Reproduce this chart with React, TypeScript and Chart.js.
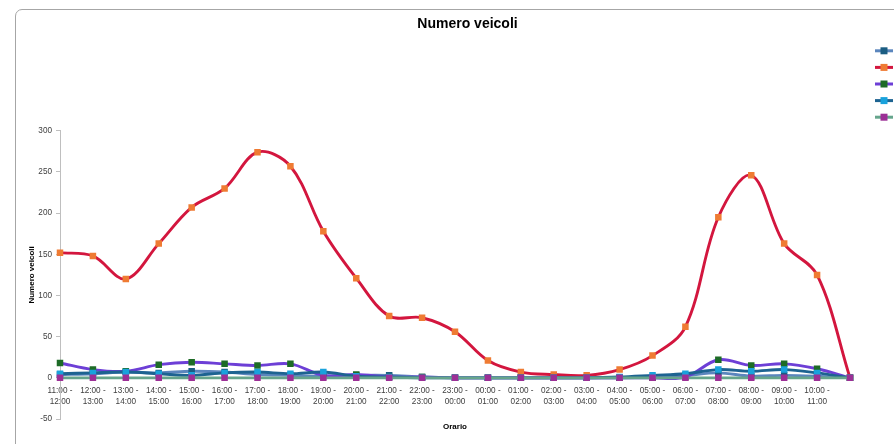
import React, { useEffect, useRef } from 'react';
import { Chart, registerables } from 'chart.js';

Chart.register(...registerables);

const categories: string[] = [
  '11:00 - 12:00', '12:00 - 13:00', '13:00 - 14:00', '14:00 - 15:00', '15:00 - 16:00',
  '16:00 - 17:00', '17:00 - 18:00', '18:00 - 19:00', '19:00 - 20:00', '20:00 - 21:00',
  '21:00 - 22:00', '22:00 - 23:00', '23:00 - 00:00', '00:00 - 01:00', '01:00 - 02:00',
  '02:00 - 03:00', '03:00 - 04:00', '04:00 - 05:00', '05:00 - 06:00', '06:00 - 07:00',
  '07:00 - 08:00', '08:00 - 09:00', '09:00 - 10:00', '10:00 - 11:00', '',
];

const seriesNames: string[] = ['Moto', 'Auto', 'Furgoni', 'Camion', 'Autobus'];

const moto: number[] = [4, 5, 7, 6, 8, 7, 4, 3, 2, 3, 3, 1, 0, 0, 0, 0, 0, 0, 1, 3, 6, 2, 3, 2, 0];
const auto: number[] = [152, 148, 120, 163, 207, 230, 274, 257, 178, 121, 75, 73, 56, 21, 7, 4, 3, 10, 27, 62, 195, 246, 163, 125, 0];
const furgoni: number[] = [18, 10, 8, 16, 19, 17, 15, 17, 3, 4, 1, 1, 0, 0, 0, 0, 0, 0, 0, 1, 22, 15, 17, 11, 0];
const camion: number[] = [5, 6, 7, 5, 3, 6, 7, 5, 7, 2, 1, 0, 0, 0, 0, 0, 0, 1, 3, 5, 10, 8, 10, 6, 0];
const autobus: number[] = [0, 0, 0, 0, 0, 0, 0, 0, 0, 0, 0, 0, 0, 0, 0, 0, 0, 0, 0, 0, 0, 0, 0, 0, 0];

const yTicks = { min: -50, max: 300, step: 50 };

const lineColors: string[] = ['#5b86bd', '#d3163e', '#6d3fd6', '#1d6391', '#66a58c'];
const markerColors: string[] = ['#1b5d82', '#ef7b33', '#1d6b26', '#19a2dc', '#9c2f96'];

const FONT = "'Liberation Sans Narrow', 'Liberation Sans', Arial, sans-serif";

const legendPlugin = {
  id: 'sideLegend',
  afterDraw(chart: any) {
    const ctx = chart.ctx;
    const area = chart.chartArea;
    const x0 = area.right + 25;
    const y0 = area.top - 80;
    chart.data.datasets.forEach((ds: any, i: number) => {
      const y = y0 + i * 16.6;
      ctx.save();
      ctx.strokeStyle = ds.borderColor;
      ctx.lineWidth = 3;
      ctx.beginPath();
      ctx.moveTo(x0, y);
      ctx.lineTo(x0 + 18, y);
      ctx.stroke();
      ctx.fillStyle = ds.pointBackgroundColor;
      ctx.fillRect(x0 + 9 - 3.5, y - 3.5, 7, 7);
      ctx.fillStyle = '#595959';
      ctx.font = `9px ${FONT}`;
      ctx.textBaseline = 'middle';
      ctx.fillText(ds.label, x0 + 22, y);
      ctx.restore();
    });
  },
};

export default function App() {
  const ref = useRef<HTMLCanvasElement | null>(null);

  useEffect(() => {
    if (!ref.current) return;
    const series = [moto, auto, furgoni, camion, autobus];
    const chart = new Chart(ref.current, {
      type: 'line',
      data: {
        labels: categories.map((c) => (c ? [c.split(' - ')[0] + ' -', c.split(' - ')[1]] : '')),
        datasets: series.map((data, i) => ({
          label: seriesNames[i],
          data,
          yAxisID: 'y',
          borderColor: lineColors[i],
          backgroundColor: markerColors[i],
          pointBackgroundColor: markerColors[i],
          pointBorderColor: markerColors[i],
          pointBorderWidth: 0,
          pointStyle: 'rect',
          pointRadius: 4.6,
          borderWidth: 2.9,
          tension: 0.35,
          fill: false,
          order: series.length - i,
        })),
      },
      options: {
        responsive: false,
        animation: false,
        layout: { padding: { left: 0, right: 0, top: 0, bottom: 29 } },
        plugins: {
          legend: { display: false },
          tooltip: { enabled: false },
          title: {
            display: true,
            text: 'Numero veicoli',
            color: '#000000',
            font: { family: FONT, size: 14, weight: 'bold' },
            padding: { top: 6, bottom: 98 },
          },
        },
        scales: {
          x: {
            type: 'category',
            position: { y: 0 },
            offset: false,
            grid: { display: false, drawTicks: false },
            border: { display: true, color: '#bfbfbf', width: 1 },
            ticks: {
              autoSkip: false,
              maxRotation: 0,
              minRotation: 0,
              padding: 7,
              color: '#404040',
              font: { family: FONT, size: 8.2, lineHeight: 1.35 },
            },
            title: {
              display: true,
              text: 'Orario',
              color: '#000000',
              font: { family: FONT, size: 8, weight: 'bold' },
              padding: { top: 8, bottom: 0 },
            },
          },
          y: {
            min: yTicks.min,
            max: yTicks.max,
            afterFit: (s: any) => {
              s.width = 44;
            },
            ticks: {
              stepSize: yTicks.step,
              padding: 4,
              color: '#404040',
              font: { family: FONT, size: 8.2 },
            },
            grid: { drawOnChartArea: false, drawTicks: true, tickLength: 4, color: '#bfbfbf' },
            border: { display: true, color: '#bfbfbf', width: 1 },
            title: {
              display: true,
              text: 'Numero veicoli',
              color: '#000000',
              font: { family: FONT, size: 8, weight: 'bold' },
              padding: { top: 11, bottom: 0 },
            },
          },
          legendSpace: {
            type: 'linear',
            position: 'right',
            display: true,
            afterFit: (s: any) => {
              s.width = 69;
            },
            grid: { display: false, drawTicks: false },
            border: { display: false },
            ticks: { display: false },
          },
        },
      },
      plugins: [legendPlugin],
    } as any);
    return () => chart.destroy();
  }, []);

  return (
    <div style={{ position: 'fixed', left: 0, top: 0, width: 894, height: 444, overflow: 'hidden', background: '#fff' }}>
      <div
        style={{
          position: 'absolute',
          left: 15,
          top: 9,
          width: 905,
          height: 445,
          border: '1px solid #a6a6a6',
          borderRadius: 7,
          background: '#fff',
        }}
      >
        <canvas ref={ref} width={903} height={438} style={{ display: 'block', width: 903, height: 438 }} />
      </div>
    </div>
  );
}
